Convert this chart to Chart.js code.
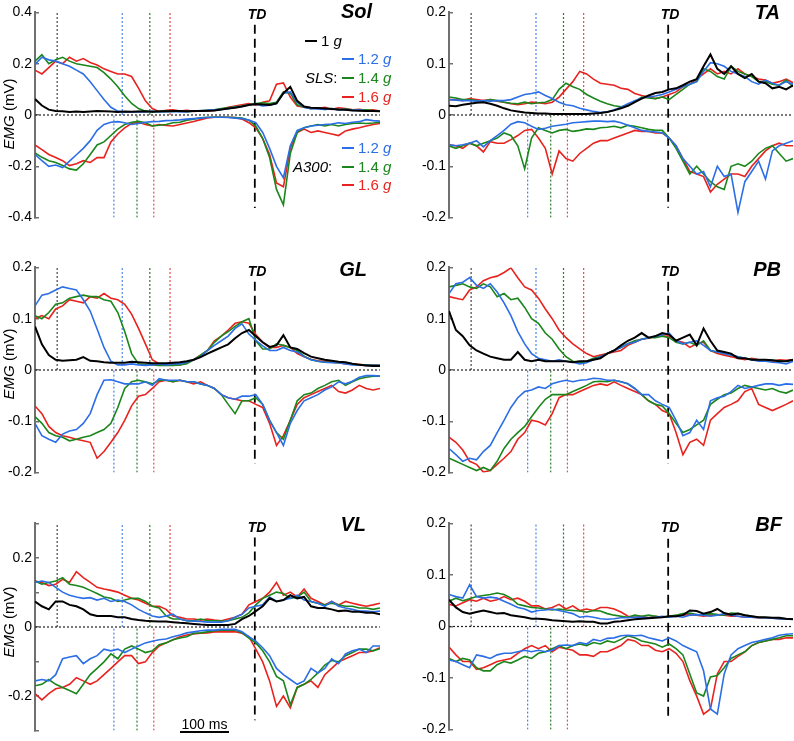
<!DOCTYPE html>
<html>
<head>
<meta charset="utf-8">
<script src="https://cdn.jsdelivr.net/npm/chart.js@4.4.1/dist/chart.umd.min.js"></script>
<style>
  body { margin: 0; width: 794px; height: 741px; overflow: hidden; background: #fff; position: relative;
         font-family: Arial, "Liberation Sans", sans-serif; }
  canvas { position: absolute; }
  .txt { position: absolute; white-space: nowrap; line-height: 1; z-index: 2; }
  .ttl { font: italic bold 20px Arial, "Liberation Sans", sans-serif; line-height: 20px; }
  .td { font: italic bold 14px Arial, "Liberation Sans", sans-serif; line-height: 14px; width: 40px; text-align: center; }
  .emg { font-size: 15px; transform: translate(-50%, -50%) rotate(-90deg); }
  .leg { font-size: 15px; line-height: 16px; height: 16px; display: flex; align-items: center; }
  .sw { display: inline-block; width: 12px; height: 2px; margin-right: 4px; }
</style>
</head>
<body>
<canvas id="sol" width="385" height="236" style="left:0;top:-3px"></canvas>
<canvas id="ta" width="380" height="236" style="left:414px;top:-3px"></canvas>
<canvas id="gl" width="385" height="236" style="left:0;top:252px"></canvas>
<canvas id="pb" width="380" height="236" style="left:414px;top:252px"></canvas>
<canvas id="vl" width="385" height="238" style="left:0;top:508px"></canvas>
<canvas id="bf" width="380" height="237" style="left:414px;top:508px"></canvas>

<div class="txt ttl" style="right:422px;top:1px">Sol</div>
<div class="txt ttl" style="right:14px;top:2px">TA</div>
<div class="txt ttl" style="right:427px;top:259px">GL</div>
<div class="txt ttl" style="right:13px;top:259px">PB</div>
<div class="txt ttl" style="right:428px;top:514px">VL</div>
<div class="txt ttl" style="right:12px;top:514px">BF</div>

<div class="txt td" style="left:237px;top:7px">TD</div>
<div class="txt td" style="left:650px;top:7px">TD</div>
<div class="txt td" style="left:237px;top:264px">TD</div>
<div class="txt td" style="left:650px;top:264px">TD</div>
<div class="txt td" style="left:237px;top:520px">TD</div>
<div class="txt td" style="left:650px;top:520px">TD</div>

<div class="txt emg" style="left:8px;top:114px"><i>EMG</i> (mV)</div>
<div class="txt emg" style="left:8px;top:364px"><i>EMG</i> (mV)</div>
<div class="txt emg" style="left:8px;top:622px"><i>EMG</i> (mV)</div>

<div class="txt leg" style="left:305px;top:33px;color:#000"><span class="sw" style="background:#000"></span>1&nbsp;<i>g</i></div>
<div class="txt leg" style="left:342px;top:51px;color:#2b6ee6"><span class="sw" style="background:#2b6ee6"></span>1.2&nbsp;<i>g</i></div>
<div class="txt leg" style="left:305px;top:70px"><i>SLS</i>:</div>
<div class="txt leg" style="left:342px;top:70px;color:#1b861b"><span class="sw" style="background:#1b861b"></span>1.4&nbsp;<i>g</i></div>
<div class="txt leg" style="left:342px;top:89px;color:#e8231f"><span class="sw" style="background:#e8231f"></span>1.6&nbsp;<i>g</i></div>
<div class="txt leg" style="left:342px;top:140px;color:#2b6ee6"><span class="sw" style="background:#2b6ee6"></span>1.2&nbsp;<i>g</i></div>
<div class="txt leg" style="left:293px;top:159px"><i>A300</i>:</div>
<div class="txt leg" style="left:342px;top:159px;color:#1b861b"><span class="sw" style="background:#1b861b"></span>1.4&nbsp;<i>g</i></div>
<div class="txt leg" style="left:342px;top:177px;color:#e8231f"><span class="sw" style="background:#e8231f"></span>1.6&nbsp;<i>g</i></div>

<div class="txt" style="left:180px;top:731px;width:49px;height:2px;background:#000"></div>
<div class="txt" style="left:170px;top:717px;width:69px;text-align:center;font-size:14px">100 ms</div>

<script>
// time base (ms) shared by every trace
const time = [0,14,28,42,56,70,84,98,112,126,140,154,168,182,196,210,224,238,252,266,
  280,294,308,322,336,350,364,378,392,406,420,434,448,462,476,490,504,518,532,546,
  560,574,588,602,616,630,644,658,672,686,700];

// onsets (ms): 1 g, 1.2 g, 1.4 g, 1.6 g for SLS; 1.2/1.4/1.6 g for A300; touchdown
const markTop = [45, 177, 233, 274];
const markBottom = [160, 207, 241];
const tdTime = 446;

// ---- Sol ----
const sol1g = [0.062,0.037,0.021,0.016,0.015,0.012,0.014,0.012,0.014,0.016,
  0.015,0.014,0.012,0.014,0.013,0.014,0.015,0.013,0.015,0.015,
  0.016,0.016,0.015,0.016,0.016,0.017,0.018,0.021,0.025,0.028,
  0.033,0.039,0.043,0.041,0.039,0.045,0.085,0.11,0.055,0.033,
  0.028,0.027,0.025,0.023,0.021,0.02,0.018,0.017,0.016,0.016,0.015];
const solSls12 = [0.197,0.225,0.215,0.21,0.2,0.19,0.175,0.16,0.13,0.095,
  0.06,0.03,0.015,0.012,0.012,0.013,0.012,0.015,0.012,0.013,
  0.014,0.012,0.013,0.015,0.017,0.018,0.02,0.022,0.025,0.03,
  0.033,0.04,0.042,0.035,0.038,0.045,0.085,0.09,0.05,0.03,
  0.025,0.024,0.022,0.025,0.02,0.022,0.018,0.02,0.016,0.015,0.015];
const solSls14 = [0.21,0.235,0.2,0.215,0.225,0.21,0.2,0.195,0.19,0.185,
  0.165,0.14,0.11,0.075,0.045,0.025,0.015,0.012,0.013,0.015,
  0.014,0.016,0.013,0.015,0.016,0.018,0.02,0.025,0.028,0.032,
  0.035,0.04,0.045,0.048,0.045,0.05,0.09,0.085,0.04,0.03,
  0.025,0.027,0.022,0.025,0.02,0.023,0.02,0.018,0.02,0.017,0.015];
const solSls16 = [0.175,0.16,0.185,0.21,0.2,0.225,0.21,0.22,0.205,0.195,
  0.18,0.17,0.16,0.16,0.15,0.105,0.055,0.025,0.013,0.018,
  0.02,0.015,0.018,0.014,0.016,0.015,0.018,0.022,0.03,0.035,
  0.04,0.045,0.038,0.05,0.055,0.12,0.125,0.07,0.035,0.03,
  0.028,0.025,0.03,0.022,0.028,0.025,0.02,0.022,0.018,0.02,0.015];
const solA12 = [-0.154,-0.178,-0.2,-0.195,-0.205,-0.18,-0.155,-0.13,-0.1,-0.06,
  -0.037,-0.028,-0.026,-0.03,-0.037,-0.033,-0.028,-0.026,-0.025,-0.022,
  -0.021,-0.019,-0.016,-0.014,-0.012,-0.01,-0.009,-0.009,-0.01,-0.012,
  -0.014,-0.02,-0.03,-0.068,-0.13,-0.2,-0.245,-0.12,-0.06,-0.05,
  -0.043,-0.04,-0.037,-0.035,-0.03,-0.033,-0.028,-0.026,-0.018,-0.022,-0.024];
const solA14 = [-0.148,-0.165,-0.178,-0.185,-0.197,-0.21,-0.215,-0.19,-0.154,-0.117,
  -0.105,-0.08,-0.055,-0.037,-0.028,-0.025,-0.03,-0.043,-0.04,-0.037,
  -0.03,-0.028,-0.02,-0.016,-0.011,-0.009,-0.009,-0.009,-0.009,-0.01,
  -0.012,-0.02,-0.043,-0.092,-0.166,-0.29,-0.35,-0.15,-0.068,-0.05,
  -0.043,-0.037,-0.043,-0.037,-0.043,-0.037,-0.033,-0.031,-0.033,-0.031,-0.028];
const solA16 = [-0.117,-0.135,-0.154,-0.166,-0.178,-0.197,-0.19,-0.178,-0.185,-0.166,
  -0.166,-0.105,-0.074,-0.05,-0.033,-0.028,-0.037,-0.043,-0.037,-0.041,
  -0.043,-0.037,-0.031,-0.025,-0.018,-0.012,-0.009,-0.009,-0.009,-0.01,
  -0.016,-0.03,-0.05,-0.092,-0.154,-0.265,-0.28,-0.13,-0.068,-0.055,
  -0.068,-0.062,-0.068,-0.074,-0.08,-0.062,-0.055,-0.05,-0.043,-0.037,-0.033];

// ---- TA ----
const ta1g = [0.018,0.017,0.02,0.022,0.024,0.025,0.022,0.018,0.013,0.009,
  0.007,0.005,0.004,0.003,0.003,0.002,0.002,0.002,0.002,0.002,
  0.002,0.003,0.004,0.006,0.009,0.013,0.018,0.025,0.032,0.038,
  0.043,0.045,0.05,0.052,0.058,0.065,0.07,0.095,0.118,0.09,
  0.08,0.095,0.08,0.072,0.08,0.065,0.062,0.052,0.055,0.05,0.058];
const taSls12 = [0.03,0.029,0.028,0.028,0.027,0.028,0.027,0.028,0.028,0.03,
  0.035,0.04,0.042,0.045,0.038,0.032,0.025,0.02,0.018,0.013,
  0.01,0.007,0.005,0.006,0.01,0.015,0.022,0.028,0.033,0.035,
  0.037,0.04,0.045,0.05,0.055,0.06,0.065,0.085,0.102,0.1,
  0.095,0.085,0.08,0.075,0.065,0.06,0.068,0.062,0.058,0.065,0.06];
const taSls14 = [0.035,0.033,0.03,0.03,0.028,0.027,0.03,0.028,0.025,0.023,
  0.022,0.025,0.022,0.024,0.025,0.03,0.05,0.062,0.055,0.05,
  0.04,0.033,0.027,0.022,0.018,0.016,0.018,0.025,0.035,0.033,
  0.032,0.035,0.03,0.04,0.05,0.06,0.065,0.09,0.085,0.075,
  0.07,0.095,0.085,0.08,0.075,0.065,0.065,0.06,0.058,0.068,0.055];
const taSls16 = [0.03,0.03,0.028,0.032,0.03,0.028,0.03,0.027,0.025,0.022,
  0.02,0.022,0.025,0.024,0.022,0.025,0.035,0.05,0.065,0.085,
  0.08,0.07,0.062,0.06,0.058,0.052,0.05,0.042,0.038,0.035,
  0.032,0.035,0.04,0.045,0.055,0.06,0.07,0.08,0.09,0.08,
  0.085,0.08,0.09,0.08,0.075,0.07,0.068,0.062,0.065,0.07,0.063];
const taA12 = [-0.058,-0.06,-0.058,-0.055,-0.05,-0.062,-0.05,-0.04,-0.03,-0.018,
  -0.013,-0.015,-0.022,-0.028,-0.026,-0.022,-0.02,-0.018,-0.015,-0.014,
  -0.013,-0.012,-0.012,-0.013,-0.012,-0.015,-0.02,-0.025,-0.03,-0.032,
  -0.033,-0.035,-0.045,-0.06,-0.085,-0.1,-0.115,-0.11,-0.14,-0.1,
  -0.12,-0.115,-0.19,-0.13,-0.11,-0.09,-0.125,-0.07,-0.06,-0.055,-0.05];
const taA14 = [-0.06,-0.065,-0.06,-0.055,-0.06,-0.055,-0.05,-0.045,-0.035,-0.04,
  -0.06,-0.105,-0.045,-0.025,-0.03,-0.035,-0.03,-0.028,-0.032,-0.03,
  -0.027,-0.028,-0.025,-0.024,-0.022,-0.025,-0.02,-0.022,-0.025,-0.028,
  -0.03,-0.03,-0.045,-0.065,-0.09,-0.115,-0.1,-0.115,-0.13,-0.14,
  -0.145,-0.1,-0.095,-0.1,-0.09,-0.075,-0.065,-0.06,-0.075,-0.09,-0.085];
const taA16 = [-0.058,-0.06,-0.065,-0.055,-0.06,-0.072,-0.052,-0.055,-0.055,-0.048,
  -0.04,-0.03,-0.028,-0.045,-0.065,-0.115,-0.07,-0.085,-0.09,-0.075,
  -0.065,-0.055,-0.05,-0.05,-0.045,-0.04,-0.035,-0.03,-0.032,-0.032,
  -0.035,-0.035,-0.045,-0.06,-0.085,-0.11,-0.115,-0.12,-0.15,-0.135,
  -0.125,-0.115,-0.115,-0.12,-0.1,-0.085,-0.07,-0.06,-0.055,-0.06,-0.06];

// ---- GL ----
const gl1g = [0.085,0.05,0.029,0.02,0.018,0.019,0.02,0.025,0.018,0.017,
  0.015,0.014,0.014,0.014,0.016,0.015,0.014,0.013,0.013,0.013,
  0.014,0.015,0.017,0.02,0.025,0.032,0.038,0.044,0.05,0.062,
  0.072,0.078,0.066,0.054,0.045,0.048,0.068,0.044,0.041,0.033,
  0.026,0.023,0.02,0.018,0.016,0.015,0.012,0.01,0.009,0.008,0.008];
const glSls12 = [0.125,0.146,0.149,0.156,0.162,0.159,0.156,0.137,0.115,0.08,
  0.044,0.017,0.01,0.01,0.012,0.01,0.009,0.01,0.012,0.01,
  0.012,0.012,0.015,0.02,0.026,0.038,0.048,0.057,0.066,0.081,
  0.09,0.07,0.058,0.047,0.038,0.038,0.044,0.038,0.035,0.026,
  0.02,0.017,0.015,0.014,0.014,0.012,0.01,0.01,0.009,0.009,0.009];
const glSls14 = [0.106,0.1,0.112,0.128,0.131,0.14,0.143,0.146,0.143,0.143,
  0.137,0.134,0.112,0.075,0.032,0.012,0.01,0.01,0.009,0.009,
  0.009,0.01,0.012,0.02,0.029,0.038,0.054,0.066,0.075,0.085,
  0.094,0.1,0.057,0.041,0.041,0.051,0.048,0.044,0.038,0.027,
  0.02,0.017,0.015,0.015,0.014,0.014,0.012,0.01,0.01,0.009,0.009];
const glSls16 = [0.1,0.106,0.1,0.119,0.125,0.137,0.134,0.131,0.143,0.14,
  0.149,0.14,0.137,0.128,0.109,0.081,0.051,0.02,0.012,0.01,
  0.012,0.01,0.014,0.02,0.029,0.038,0.057,0.066,0.078,0.091,
  0.094,0.091,0.069,0.054,0.044,0.044,0.048,0.044,0.032,0.026,
  0.021,0.018,0.017,0.015,0.014,0.012,0.012,0.011,0.009,0.01,0.009];
const glA12 = [-0.104,-0.128,-0.135,-0.141,-0.125,-0.119,-0.116,-0.104,-0.085,-0.048,
  -0.02,-0.019,-0.023,-0.027,-0.027,-0.027,-0.023,-0.03,-0.017,-0.02,
  -0.02,-0.02,-0.023,-0.023,-0.027,-0.03,-0.036,-0.048,-0.054,-0.057,
  -0.051,-0.051,-0.048,-0.067,-0.098,-0.122,-0.147,-0.104,-0.079,-0.06,
  -0.054,-0.048,-0.039,-0.033,-0.023,-0.027,-0.022,-0.014,-0.011,-0.011,-0.012];
const glA14 = [-0.091,-0.104,-0.122,-0.128,-0.131,-0.138,-0.135,-0.131,-0.128,-0.122,
  -0.116,-0.104,-0.073,-0.036,-0.023,-0.02,-0.023,-0.027,-0.02,-0.02,
  -0.023,-0.02,-0.023,-0.023,-0.027,-0.03,-0.036,-0.048,-0.067,-0.085,
  -0.06,-0.06,-0.054,-0.067,-0.098,-0.122,-0.135,-0.098,-0.06,-0.048,
  -0.045,-0.036,-0.03,-0.023,-0.02,-0.03,-0.023,-0.017,-0.014,-0.012,-0.012];
const glA16 = [-0.07,-0.085,-0.11,-0.122,-0.128,-0.131,-0.135,-0.138,-0.141,-0.172,
  -0.159,-0.141,-0.122,-0.098,-0.07,-0.051,-0.048,-0.036,-0.023,-0.02,
  -0.023,-0.02,-0.023,-0.027,-0.023,-0.03,-0.036,-0.048,-0.054,-0.057,
  -0.06,-0.06,-0.067,-0.073,-0.104,-0.147,-0.128,-0.098,-0.067,-0.054,
  -0.048,-0.042,-0.036,-0.03,-0.042,-0.045,-0.039,-0.03,-0.036,-0.039,-0.036];

// ---- PB ----
const pb1g = [0.115,0.078,0.066,0.048,0.038,0.032,0.026,0.023,0.02,0.02,
  0.035,0.02,0.017,0.02,0.017,0.017,0.017,0.017,0.015,0.017,
  0.017,0.02,0.023,0.032,0.038,0.048,0.057,0.063,0.072,0.063,
  0.066,0.072,0.069,0.057,0.063,0.069,0.048,0.081,0.057,0.038,
  0.035,0.032,0.023,0.023,0.02,0.02,0.02,0.019,0.017,0.017,0.02];
const pbSls12 = [0.149,0.168,0.171,0.18,0.165,0.159,0.168,0.152,0.131,0.106,
  0.075,0.051,0.032,0.023,0.02,0.017,0.02,0.017,0.015,0.012,
  0.014,0.02,0.026,0.032,0.038,0.044,0.051,0.054,0.06,0.063,
  0.066,0.069,0.072,0.057,0.051,0.054,0.057,0.048,0.038,0.035,
  0.032,0.029,0.026,0.023,0.02,0.017,0.017,0.015,0.014,0.012,0.017];
const pbSls14 = [0.162,0.165,0.168,0.162,0.159,0.168,0.162,0.143,0.149,0.137,
  0.14,0.122,0.1,0.091,0.072,0.06,0.041,0.026,0.017,0.014,
  0.017,0.023,0.026,0.032,0.038,0.044,0.051,0.057,0.06,0.063,
  0.063,0.066,0.063,0.054,0.051,0.054,0.048,0.057,0.038,0.035,
  0.032,0.029,0.026,0.023,0.021,0.02,0.02,0.019,0.018,0.017,0.019];
const pbSls16 = [0.143,0.14,0.137,0.156,0.162,0.174,0.18,0.183,0.19,0.199,
  0.18,0.162,0.156,0.14,0.119,0.1,0.078,0.063,0.051,0.041,
  0.032,0.026,0.029,0.032,0.035,0.038,0.048,0.054,0.06,0.062,
  0.066,0.066,0.066,0.057,0.054,0.044,0.051,0.054,0.038,0.032,
  0.029,0.026,0.023,0.02,0.023,0.02,0.02,0.017,0.02,0.019,0.02];
const pbA12 = [-0.153,-0.165,-0.178,-0.172,-0.175,-0.159,-0.147,-0.122,-0.098,-0.073,
  -0.054,-0.042,-0.039,-0.033,-0.036,-0.027,-0.023,-0.02,-0.023,-0.02,
  -0.019,-0.016,-0.017,-0.02,-0.02,-0.023,-0.027,-0.036,-0.048,-0.048,
  -0.06,-0.067,-0.073,-0.098,-0.128,-0.122,-0.098,-0.116,-0.06,-0.054,
  -0.051,-0.042,-0.03,-0.036,-0.033,-0.03,-0.027,-0.027,-0.03,-0.027,-0.028];
const pbA14 = [-0.172,-0.178,-0.184,-0.19,-0.196,-0.19,-0.196,-0.178,-0.153,-0.135,
  -0.122,-0.11,-0.091,-0.073,-0.057,-0.048,-0.048,-0.048,-0.042,-0.036,
  -0.03,-0.023,-0.022,-0.023,-0.02,-0.023,-0.027,-0.036,-0.048,-0.06,
  -0.067,-0.07,-0.085,-0.104,-0.122,-0.116,-0.107,-0.098,-0.067,-0.057,
  -0.048,-0.045,-0.036,-0.03,-0.033,-0.036,-0.039,-0.036,-0.042,-0.045,-0.039];
const pbA16 = [-0.131,-0.141,-0.156,-0.178,-0.184,-0.199,-0.196,-0.184,-0.172,-0.159,
  -0.135,-0.122,-0.098,-0.101,-0.107,-0.085,-0.054,-0.048,-0.048,-0.042,
  -0.036,-0.03,-0.027,-0.03,-0.023,-0.03,-0.036,-0.042,-0.048,-0.06,
  -0.067,-0.079,-0.085,-0.122,-0.165,-0.141,-0.135,-0.147,-0.098,-0.085,
  -0.073,-0.067,-0.06,-0.042,-0.036,-0.067,-0.073,-0.079,-0.073,-0.067,-0.06];

// ---- VL ----
const vl1g = [0.074,0.06,0.051,0.074,0.074,0.064,0.06,0.051,0.037,0.032,
  0.032,0.032,0.028,0.028,0.023,0.02,0.018,0.017,0.016,0.016,
  0.014,0.012,0.011,0.009,0.007,0.006,0.006,0.006,0.006,0.009,
  0.023,0.032,0.046,0.06,0.083,0.074,0.078,0.092,0.083,0.087,
  0.06,0.055,0.055,0.051,0.046,0.048,0.044,0.044,0.041,0.041,0.037];
const vlSls12 = [0.129,0.133,0.129,0.115,0.101,0.092,0.087,0.083,0.085,0.078,
  0.083,0.074,0.078,0.074,0.064,0.051,0.041,0.032,0.028,0.032,
  0.037,0.023,0.018,0.017,0.016,0.014,0.014,0.014,0.018,0.028,
  0.037,0.055,0.06,0.064,0.087,0.074,0.078,0.083,0.092,0.078,
  0.074,0.069,0.06,0.074,0.06,0.055,0.051,0.046,0.046,0.044,0.046];
const vlSls14 = [0.133,0.124,0.129,0.133,0.143,0.124,0.12,0.115,0.106,0.097,
  0.087,0.083,0.074,0.078,0.083,0.083,0.074,0.06,0.055,0.032,
  0.023,0.023,0.018,0.018,0.023,0.018,0.018,0.017,0.018,0.023,
  0.028,0.041,0.064,0.083,0.092,0.101,0.097,0.083,0.087,0.101,
  0.074,0.069,0.064,0.069,0.064,0.06,0.06,0.055,0.055,0.051,0.055];
const vlSls16 = [0.133,0.129,0.12,0.124,0.138,0.129,0.16,0.143,0.129,0.115,
  0.11,0.106,0.101,0.092,0.083,0.078,0.069,0.06,0.06,0.051,
  0.032,0.028,0.023,0.023,0.02,0.023,0.02,0.018,0.023,0.028,
  0.037,0.064,0.074,0.083,0.101,0.129,0.092,0.101,0.087,0.11,
  0.083,0.074,0.064,0.074,0.064,0.074,0.069,0.064,0.06,0.064,0.069];
const vlA12 = [-0.156,-0.152,-0.156,-0.138,-0.092,-0.087,-0.083,-0.106,-0.092,-0.083,
  -0.064,-0.069,-0.064,-0.074,-0.064,-0.055,-0.046,-0.041,-0.037,-0.035,
  -0.028,-0.023,-0.017,-0.014,-0.011,-0.009,-0.009,-0.007,-0.007,-0.007,
  -0.014,-0.028,-0.041,-0.06,-0.083,-0.12,-0.138,-0.152,-0.166,-0.156,
  -0.12,-0.133,-0.12,-0.092,-0.106,-0.078,-0.069,-0.064,-0.074,-0.055,-0.055];
const vlA14 = [-0.17,-0.166,-0.152,-0.166,-0.175,-0.184,-0.193,-0.166,-0.138,-0.12,
  -0.101,-0.078,-0.092,-0.064,-0.055,-0.064,-0.074,-0.069,-0.051,-0.046,
  -0.037,-0.032,-0.028,-0.018,-0.017,-0.014,-0.011,-0.009,-0.009,-0.009,
  -0.017,-0.032,-0.046,-0.069,-0.101,-0.143,-0.156,-0.225,-0.175,-0.166,
  -0.152,-0.133,-0.11,-0.097,-0.101,-0.083,-0.074,-0.064,-0.064,-0.069,-0.063];
const vlA16 = [-0.193,-0.211,-0.193,-0.179,-0.175,-0.166,-0.147,-0.156,-0.166,-0.156,
  -0.138,-0.12,-0.101,-0.083,-0.083,-0.106,-0.101,-0.074,-0.055,-0.046,
  -0.037,-0.028,-0.023,-0.02,-0.018,-0.017,-0.014,-0.014,-0.014,-0.014,
  -0.018,-0.028,-0.064,-0.101,-0.156,-0.23,-0.2,-0.234,-0.175,-0.166,
  -0.156,-0.175,-0.138,-0.12,-0.101,-0.092,-0.083,-0.074,-0.074,-0.069,-0.06];

// ---- BF ----
const bf1g = [0.052,0.037,0.028,0.025,0.028,0.031,0.028,0.025,0.026,0.022,
  0.02,0.018,0.015,0.015,0.014,0.012,0.011,0.01,0.009,0.01,
  0.009,0.009,0.006,0.006,0.009,0.01,0.012,0.014,0.015,0.016,
  0.017,0.018,0.02,0.02,0.022,0.031,0.03,0.025,0.028,0.034,
  0.026,0.023,0.025,0.022,0.02,0.018,0.018,0.017,0.017,0.015,0.014];
const bfSls12 = [0.062,0.058,0.055,0.081,0.058,0.055,0.057,0.055,0.049,0.043,
  0.037,0.034,0.028,0.031,0.032,0.034,0.031,0.028,0.025,0.018,
  0.02,0.018,0.015,0.014,0.015,0.017,0.017,0.018,0.018,0.017,
  0.018,0.02,0.018,0.02,0.018,0.022,0.023,0.022,0.02,0.022,
  0.025,0.022,0.02,0.018,0.018,0.017,0.017,0.016,0.015,0.014,0.014];
const bfSls14 = [0.049,0.055,0.05,0.054,0.058,0.06,0.062,0.065,0.062,0.055,
  0.043,0.04,0.037,0.036,0.034,0.032,0.034,0.032,0.031,0.03,
  0.028,0.031,0.03,0.025,0.022,0.02,0.018,0.022,0.02,0.022,
  0.02,0.018,0.02,0.022,0.025,0.026,0.023,0.022,0.025,0.023,
  0.022,0.026,0.025,0.022,0.02,0.018,0.017,0.017,0.015,0.015,0.015];
const bfSls16 = [0.043,0.04,0.046,0.052,0.049,0.055,0.049,0.052,0.058,0.052,
  0.055,0.049,0.04,0.04,0.034,0.037,0.043,0.034,0.04,0.031,
  0.034,0.031,0.037,0.037,0.034,0.028,0.02,0.018,0.02,0.017,
  0.02,0.018,0.02,0.021,0.022,0.023,0.022,0.02,0.022,0.023,
  0.022,0.02,0.02,0.018,0.018,0.017,0.017,0.016,0.015,0.014,0.014];
const bfA12 = [-0.065,-0.068,-0.074,-0.08,-0.055,-0.058,-0.062,-0.055,-0.052,-0.052,
  -0.049,-0.046,-0.049,-0.046,-0.049,-0.046,-0.037,-0.036,-0.037,-0.031,
  -0.034,-0.025,-0.028,-0.023,-0.022,-0.018,-0.017,-0.018,-0.017,-0.022,
  -0.025,-0.028,-0.022,-0.028,-0.037,-0.043,-0.049,-0.086,-0.16,-0.17,
  -0.092,-0.055,-0.043,-0.037,-0.031,-0.028,-0.025,-0.022,-0.017,-0.015,-0.014];
const bfA14 = [-0.062,-0.068,-0.062,-0.065,-0.08,-0.086,-0.086,-0.074,-0.068,-0.071,
  -0.065,-0.058,-0.062,-0.052,-0.049,-0.043,-0.037,-0.043,-0.037,-0.034,
  -0.037,-0.031,-0.034,-0.028,-0.031,-0.025,-0.018,-0.022,-0.028,-0.031,
  -0.034,-0.04,-0.034,-0.043,-0.055,-0.092,-0.129,-0.135,-0.098,-0.095,
  -0.08,-0.062,-0.055,-0.049,-0.037,-0.031,-0.028,-0.025,-0.022,-0.018,-0.018];
const bfA16 = [-0.04,-0.055,-0.068,-0.068,-0.083,-0.08,-0.074,-0.068,-0.065,-0.062,
  -0.052,-0.043,-0.037,-0.043,-0.037,-0.049,-0.04,-0.043,-0.046,-0.055,
  -0.055,-0.058,-0.049,-0.049,-0.043,-0.037,-0.025,-0.028,-0.037,-0.037,
  -0.046,-0.049,-0.043,-0.052,-0.068,-0.105,-0.135,-0.17,-0.16,-0.092,
  -0.068,-0.068,-0.058,-0.049,-0.037,-0.031,-0.028,-0.025,-0.025,-0.022,-0.022];

// y extent of the TD dashed line in each panel (mV)
const tdSol = [0.352, -0.363];
const tdTa = [0.176, -0.181];
const tdGl = [0.172, -0.183];
const tdPb = [0.172, -0.183];
const tdVl = [0.259, -0.27];
const tdBf = [0.17, -0.181];

const BLACK = '#000000', BLUE = '#2b6ee6', GREEN = '#1b861b', RED = '#e8231f';
const dotColors = ['#444444', '#4a86ea', '#2a7a2a', '#e84a4a'];
const FONT = 'Arial, "Liberation Sans", sans-serif';

const panels = [
  { id: 'sol', range: [-0.4, 0.4], step: 0.2, every: 1, td: tdSol, padRight: 5,
    s: [sol1g, solSls12, solSls14, solSls16, solA12, solA14, solA16] },
  { id: 'ta', range: [-0.2, 0.2], step: 0.1, every: 1, td: tdTa, padRight: 1,
    s: [ta1g, taSls12, taSls14, taSls16, taA12, taA14, taA16] },
  { id: 'gl', range: [-0.2, 0.2], step: 0.1, every: 1, td: tdGl, padRight: 5,
    s: [gl1g, glSls12, glSls14, glSls16, glA12, glA14, glA16] },
  { id: 'pb', range: [-0.2, 0.2], step: 0.1, every: 1, td: tdPb, padRight: 1,
    s: [pb1g, pbSls12, pbSls14, pbSls16, pbA12, pbA14, pbA16] },
  { id: 'vl', range: [-0.3, 0.3], step: 0.1, every: 2, td: tdVl, padRight: 5,
    s: [vl1g, vlSls12, vlSls14, vlSls16, vlA12, vlA14, vlA16] },
  { id: 'bf', range: [-0.2, 0.2], step: 0.1, every: 1, td: tdBf, padRight: 1,
    s: [bf1g, bfSls12, bfSls14, bfSls16, bfA12, bfA14, bfA16] },
];

const pts = vals => vals.map((v, i) => ({ x: time[i], y: v }));
const line = (data, color, width, dash) => ({
  data, borderColor: color, borderWidth: width, borderDash: dash || [],
  pointRadius: 0, fill: false, tension: 0,
});

function drawPanel(p) {
  const [lo, hi] = p.range;
  const traceColors = [BLACK, BLUE, GREEN, RED, BLUE, GREEN, RED];
  // first dataset ends up on top, so traces go first
  const datasets = p.s.map((vals, k) => line(pts(vals), traceColors[k], k === 0 ? 2 : 1.6));
  datasets.push(line([{ x: 0, y: 0 }, { x: 700, y: 0 }], '#222', 1.2, [2, 2]));
  markTop.forEach((t, k) => datasets.push(line([{ x: t, y: 0 }, { x: t, y: hi }], dotColors[k], 1.2, [2, 2])));
  markBottom.forEach((t, k) => datasets.push(line([{ x: t, y: lo }, { x: t, y: 0 }], dotColors[k + 1], 1.2, [2, 2])));
  datasets.push(line([{ x: tdTime, y: p.td[0] }, { x: tdTime, y: p.td[1] }], '#000', 1.8, [9, 5]));

  new Chart(document.getElementById(p.id), {
    type: 'line',
    data: { datasets },
    options: {
      responsive: false,
      animation: false,
      devicePixelRatio: 1,
      layout: { padding: { left: 0, right: p.padRight, top: 10, bottom: 10 } },
      plugins: { legend: { display: false }, tooltip: { enabled: false } },
      scales: {
        x: { type: 'linear', min: 0, max: 700, display: false },
        y: {
          min: lo, max: hi,
          afterFit: s => { s.width = 35; },
          border: { display: true, color: '#707070', width: 2 },
          grid: { drawOnChartArea: false, drawTicks: true, tickLength: -4, color: '#707070', lineWidth: 1.5 },
          ticks: {
            stepSize: p.step, color: '#000', padding: 7, autoSkip: false,
            font: { family: FONT, size: 14 },
            callback: v => {
              const n = Math.round(v * 10);
              if (n % p.every !== 0) return '';
              return n === 0 ? '0' : (n / 10).toFixed(1);
            },
          },
        },
      },
    },
  });
}

panels.forEach(drawPanel);
</script>
</body>
</html>
